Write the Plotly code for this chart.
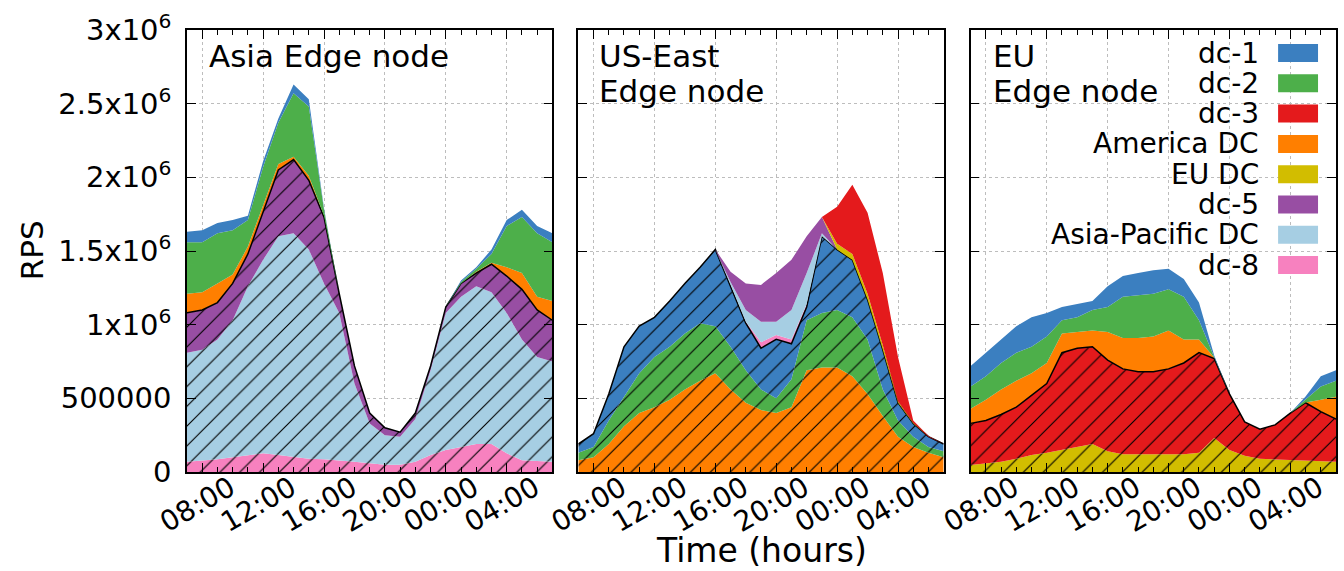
import plotly.graph_objects as go

# ---------------- data (values in thousands of RPS) ----------------
hours = list(range(7, 32))  # 07:00 .. 07:00 next day
x_tick_vals = [8, 12, 16, 20, 24, 28]
x_tick_text = ["08:00", "12:00", "16:00", "20:00", "00:00", "04:00"]
y_tick_vals = [0, 500000, 1000000, 1500000, 2000000, 2500000, 3000000]
y_tick_text = ["0", "500000", "1x10<sup>6</sup>", "1.5x10<sup>6</sup>",
               "2x10<sup>6</sup>", "2.5x10<sup>6</sup>", "3x10<sup>6</sup>"]

panel_titles = [["Asia Edge node"], ["US-East", "Edge node"], ["EU", "Edge node"]]
legend_names = ["dc-1", "dc-2", "dc-3", "America DC", "EU DC", "dc-5",
                "Asia-Pacific DC", "dc-8"]

# Asia edge node
asia_dc8 = [70, 77, 86, 100, 115, 127, 115, 100, 90, 86, 80, 70, 60, 50, 50, 70,
            115, 150, 170, 190, 190, 127, 80, 77, 70]
asia_ap = [740, 753, 814, 930, 1145, 1313, 1485, 1520, 1420, 1194, 1000, 530, 270,
           200, 190, 290, 575, 930, 1020, 1070, 1030, 953, 820, 703, 680]
asia_dc5 = [270, 270, 250, 250, 220, 330, 450, 500, 470, 450, 130, 120, 70, 50, 30,
            40, 30, 40, 90, 90, 190, 250, 340, 320, 280]
asia_america = [130, 120, 130, 60, 50, 40, 40, 20, 30, 10, 0, 0, 0, 0, 0, 0, 0, 0,
                0, 10, 10, 60, 110, 90, 130]
asia_dc2 = [350, 340, 340, 300, 180, 260, 280, 430, 470, 40, 0, 0, 0, 0, 0, 0, 0, 0,
            10, 20, 60, 280, 380, 430, 400]
asia_dc1 = [70, 80, 70, 70, 30, 40, 30, 60, 50, 10, 0, 0, 0, 0, 0, 0, 0, 0, 10, 10,
            30, 40, 50, 50, 60]

# US-East edge node
us_america = [80, 100, 190, 310, 400, 440, 490, 560, 620, 670, 560, 470, 420, 400,
              440, 690, 710, 710, 650, 530, 380, 240, 170, 130, 100]
us_dc2 = [50, 70, 160, 200, 270, 340, 360, 380, 390, 320, 290, 220, 140, 100, 190,
          340, 370, 390, 400, 370, 180, 110, 70, 40, 40]
us_dc1 = [60, 90, 180, 340, 320, 270, 310, 340, 380, 520, 410, 320, 280, 400, 240,
          90, 520, 410, 390, 270, 270, 120, 90, 70, 50]
us_dc8 = [0, 0, 0, 0, 0, 0, 0, 0, 0, 0, 10, 10, 40, 30, 30, 20, 0, 0, 0, 0, 0, 0, 0,
          0, 0]
us_ap = [0, 0, 0, 0, 0, 0, 0, 0, 0, 0, 20, 80, 140, 90, 200, 210, 20, 0, 0, 0, 0, 0,
         0, 0, 0]
us_dc5 = [0, 0, 0, 0, 0, 0, 0, 0, 0, 0, 70, 180, 250, 330, 340, 250, 110, 0, 0, 0, 0,
          0, 0, 0, 0]
us_eu = [0, 0, 0, 0, 0, 0, 0, 0, 0, 0, 0, 0, 0, 0, 0, 0, 0, 40, 40, 40, 30, 10, 5, 0,
         0]
us_dc3 = [0, 0, 0, 0, 0, 0, 0, 0, 0, 0, 0, 0, 0, 0, 0, 0, 0, 250, 470, 550, 490, 300,
          15, 5, 0]

# EU edge node
eu_eu = [48, 60, 70, 90, 115, 130, 150, 170, 190, 140, 120, 120, 120, 120, 120, 130,
         230, 150, 110, 90, 86, 80, 80, 77, 70]
eu_dc3 = [282, 290, 320, 350, 405, 470, 660, 670, 660, 620, 580, 560, 560, 580, 620,
          680, 540, 380, 230, 200, 234, 320, 390, 333, 290]
eu_america = [100, 140, 170, 180, 150, 140, 130, 110, 110, 190, 210, 230, 240, 260,
              160, 90, 5, 0, 0, 0, 0, 0, 2, 80, 150]
eu_dc2 = [150, 160, 180, 190, 180, 180, 90, 100, 140, 170, 280, 290, 290, 280, 290,
          130, 5, 0, 0, 0, 0, 0, 20, 90, 110]
eu_dc1 = [140, 160, 160, 180, 200, 160, 90, 90, 60, 140, 140, 150, 160, 140, 120, 120,
          10, 0, 0, 0, 0, 0, 20, 70, 70]

# ---------------- styling ----------------
COLORS = {
    "dc-1": "#3b7fc0", "dc-2": "#4daf4a", "dc-3": "#e41a1c",
    "America DC": "#ff7f00", "EU DC": "#d2bd00", "dc-5": "#984ea3",
    "Asia-Pacific DC": "#a6cee3", "dc-8": "#f781bf",
}
FONT = "DejaVu Sans, Liberation Sans, sans-serif"
FS = 28

# stacking order per panel (bottom -> top), hatched = local portion
panels = [
    [("dc-8", asia_dc8, True), ("Asia-Pacific DC", asia_ap, True),
     ("dc-5", asia_dc5, True), ("America DC", asia_america, False),
     ("dc-2", asia_dc2, False), ("dc-1", asia_dc1, False)],
    [("America DC", us_america, True), ("dc-2", us_dc2, True),
     ("dc-1", us_dc1, True), ("dc-8", us_dc8, False),
     ("Asia-Pacific DC", us_ap, False), ("dc-5", us_dc5, False),
     ("EU DC", us_eu, False), ("dc-3", us_dc3, False)],
    [("EU DC", eu_eu, True), ("dc-3", eu_dc3, True),
     ("America DC", eu_america, False), ("dc-2", eu_dc2, False),
     ("dc-1", eu_dc1, False)],
]

fig = go.Figure()
for p, series in enumerate(panels):
    suffix = "" if p == 0 else str(p + 1)
    last_hatched = max(i for i, s in enumerate(series) if s[2])
    for i, (name, vals, hatched) in enumerate(series):
        col = COLORS[name]
        kw = dict(
            x=hours, y=[v * 1000 for v in vals], name=name, mode="lines",
            stackgroup="g%d" % p, xaxis="x" + suffix, yaxis="y" + suffix,
            showlegend=False, fillcolor=col, hoverinfo="x+y+name",
        )
        if i == last_hatched:
            kw["line"] = dict(color="black", width=1.5)
        else:
            kw["line"] = dict(color=col, width=0)
        if hatched:
            kw["fillpattern"] = dict(shape="/", fgcolor="black", bgcolor=col,
                                     size=14, solidity=0.08, fillmode="replace")
        fig.add_trace(go.Scatter(**kw))

L, R, T, B = 187, 6, 30, 99
W, H = 1344, 571
pw = W - L - R
doms_px = [(187, 553), (579, 945), (972, 1338)]
doms = [((a - L) / pw, (b - L) / pw) for a, b in doms_px]

layout = dict(
    width=W, height=H, margin=dict(l=L, r=R, t=T, b=B),
    paper_bgcolor="white", plot_bgcolor="white",
    font=dict(family=FONT, size=FS, color="black"),
    showlegend=False,
)
for p in range(3):
    suffix = "" if p == 0 else str(p + 1)
    layout["xaxis" + suffix] = dict(
        domain=list(doms[p]), range=[7, 31], anchor="y" + suffix,
        tickmode="array", tickvals=x_tick_vals, ticktext=x_tick_text,
        tickangle=-30, ticks="inside", ticklen=9, tickwidth=1.2, tickcolor="black",
        ticklabelshift=28, ticklabelstandoff=-13,
        showline=True, linecolor="black", linewidth=1.5, mirror="ticks",
        showgrid=True, gridcolor="#bdbdbd", griddash="dot", gridwidth=1,
        minor=dict(tickmode="linear", tick0=7, dtick=1, ticks="inside", ticklen=5,
                   tickcolor="black", showgrid=False),
        tickfont=dict(family=FONT, size=FS), zeroline=False,
    )
    layout["yaxis" + suffix] = dict(
        domain=[0, 1], range=[0, 3000000], anchor="x" + suffix,
        tickmode="array", tickvals=y_tick_vals, ticktext=y_tick_text,
        showticklabels=(p == 0), ticks="inside", ticklen=9, tickwidth=1.2,
        tickcolor="black", showline=True, linecolor="black", linewidth=1.5,
        mirror="ticks", showgrid=True, gridcolor="#bdbdbd", griddash="dot",
        gridwidth=1, zeroline=False, tickfont=dict(family=FONT, size=29),
        ticklabelstandoff=8,
    )
fig.update_layout(**layout)

annotations = []
# panel titles
title_x = [0.055, 0.052, 0.055]
for p, lines in enumerate(panel_titles):
    suffix = "" if p == 0 else str(p + 1)
    for j, txt in enumerate(lines):
        ypx = 56 + 35 * j
        annotations.append(dict(
            text=txt, xref="x%s domain" % suffix, yref="y%s domain" % suffix,
            x=title_x[p], y=(472 - ypx) / 442, xanchor="left", yanchor="middle",
            showarrow=False, font=dict(family=FONT, size=31)))

# legend (text right aligned, swatch on the right)
shapes = []
for k, name in enumerate(legend_names):
    ypx = 53 + 30.3 * k
    yc = (472 - ypx) / 442
    annotations.append(dict(
        text=name, xref="x3 domain", yref="y3 domain", x=(1263 - 972) / 366, y=yc,
        xanchor="right", yanchor="middle", showarrow=False,
        font=dict(family=FONT, size=28)))
    shapes.append(dict(
        type="rect", xref="x3 domain", yref="y3 domain",
        x0=(1280 - 972) / 366, x1=(1320 - 972) / 366,
        y0=yc - 9 / 442, y1=yc + 9 / 442,
        fillcolor=COLORS[name], line=dict(width=0)))

annotations.append(dict(text="Time (hours)", xref="paper", yref="paper",
                        x=(762 - L) / pw, y=-(550 - 472) / 442, xanchor="center",
                        yanchor="middle", showarrow=False,
                        font=dict(family=FONT, size=33)))
annotations.append(dict(text="RPS", xref="paper", yref="paper",
                        x=(32 - L) / pw, y=(472 - 250) / 442, xanchor="center",
                        yanchor="middle", textangle=-90, showarrow=False,
                        font=dict(family=FONT, size=31)))
fig.update_layout(annotations=annotations, shapes=shapes)

fig.write_html("out.html", config={"displayModeBar": False},
               post_script="document.body.style.margin='0';")
